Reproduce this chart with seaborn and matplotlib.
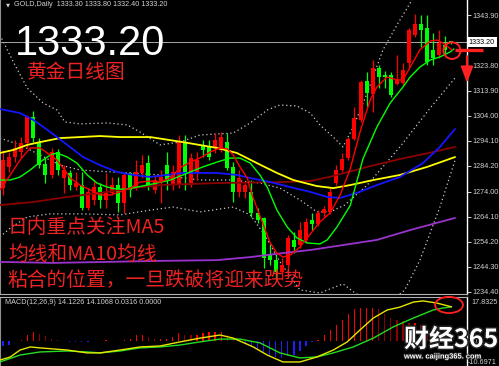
import numpy as np
import pandas as pd
import matplotlib
matplotlib.use("Agg")
import matplotlib.pyplot as plt
import seaborn as sns
from matplotlib.patches import Ellipse
import matplotlib.patheffects as pe

# ---------------- data ----------------
opens = [1275.4, 1283.8, 1287.7, 1289.7, 1293.3, 1303.5, 1293.3, 1284.9, 1280.6, 1289.7,
         1279.4, 1281.4, 1275.8, 1276.6, 1267.5, 1270.7, 1275.8, 1270.7, 1273.5, 1276.6,
         1269.5, 1281.4, 1275.8, 1281.4, 1285.3, 1274.7, 1277.8, 1284.5, 1276.6, 1276.6,
         1293.6, 1276.6, 1281.4, 1292.5, 1291.7, 1291.3, 1290.5, 1293.6, 1283.8, 1273.9,
         1273.9, 1273.9, 1265.6, 1263.6, 1248.9, 1246.9, 1242.2, 1245.0, 1254.9, 1252.9,
         1254.9, 1262.8, 1261.2, 1265.6, 1266.0, 1277.4, 1282.6, 1287.3, 1294.8, 1302.4,
         1317.8, 1312.6, 1322.9, 1320.2, 1320.2, 1316.6, 1317.0, 1324.9, 1336.0, 1340.3,
         1338.8, 1330.1, 1328.1, 1332.0, 1333.3]
highs = [1290.5, 1289.7, 1294.4, 1295.6, 1304.3, 1305.9, 1295.2, 1287.3, 1291.3, 1290.9,
         1284.5, 1282.6, 1281.8, 1281.8, 1275.4, 1278.6, 1277.4, 1281.4, 1279.8, 1279.8,
         1281.4, 1281.8, 1286.5, 1288.5, 1288.5, 1280.6, 1282.6, 1289.7, 1284.5, 1296.4,
         1296.4, 1289.3, 1289.7, 1294.4, 1294.4, 1297.2, 1297.6, 1297.2, 1285.7, 1282.6,
         1277.4, 1278.6, 1267.5, 1264.0, 1252.9, 1248.9, 1247.7, 1256.8, 1258.0, 1262.0,
         1263.6, 1265.6, 1266.7, 1268.3, 1275.4, 1284.5, 1289.3, 1295.6, 1307.5, 1318.2,
         1321.3, 1326.1, 1324.1, 1321.7, 1321.3, 1328.1, 1324.9, 1338.8, 1344.3, 1343.9,
         1343.9, 1336.8, 1338.0, 1335.6, 1333.8]
lows = [1272.7, 1281.8, 1285.7, 1287.3, 1291.3, 1293.6, 1283.4, 1277.4, 1279.4, 1280.6,
        1273.5, 1274.7, 1274.7, 1266.7, 1266.7, 1268.7, 1267.5, 1267.5, 1272.7, 1266.0,
        1265.6, 1271.9, 1274.7, 1279.4, 1274.7, 1273.5, 1269.5, 1274.7, 1274.7, 1275.4,
        1274.7, 1275.8, 1278.6, 1287.7, 1286.5, 1289.3, 1289.7, 1282.6, 1269.9, 1271.9,
        1271.5, 1264.0, 1261.6, 1243.8, 1245.0, 1239.0, 1239.0, 1241.0, 1249.7, 1251.7,
        1253.7, 1258.8, 1260.4, 1264.0, 1265.2, 1276.6, 1281.8, 1286.5, 1294.4, 1301.6,
        1307.5, 1305.5, 1315.0, 1315.0, 1311.5, 1316.2, 1316.2, 1323.3, 1335.2, 1331.2,
        1324.1, 1324.1, 1326.9, 1328.1, 1332.4]
closes = [1286.5, 1287.7, 1291.3, 1293.3, 1303.5, 1295.2, 1284.5, 1280.6, 1289.7, 1282.6,
          1282.6, 1276.6, 1277.4, 1267.5, 1273.9, 1275.8, 1270.7, 1273.9, 1276.6, 1269.5,
          1280.6, 1274.7, 1281.8, 1284.5, 1276.6, 1278.6, 1279.8, 1278.6, 1281.8, 1293.6,
          1281.4, 1287.3, 1286.5, 1290.5, 1287.7, 1294.4, 1295.6, 1283.4, 1273.9, 1279.4,
          1276.6, 1265.6, 1262.8, 1247.7, 1246.9, 1242.2, 1245.0, 1255.7, 1252.1, 1258.8,
          1262.0, 1261.2, 1265.6, 1267.1, 1273.9, 1282.6, 1286.9, 1294.8, 1303.1, 1317.4,
          1313.0, 1322.9, 1319.4, 1319.4, 1312.2, 1318.2, 1322.1, 1338.0, 1340.3, 1338.0,
          1325.3, 1326.9, 1332.8, 1330.1, 1333.2]

ma5_x = [-0.5, 1.2, 2.8, 4.5, 6.1, 7.8, 8.9, 9.9, 11.1, 12.7, 14.4, 16.0, 17.7, 19.3, 21.0, 22.6,
         24.3, 25.9, 27.6, 29.2, 30.9, 32.5, 34.2, 35.8, 37.0, 38.0, 39.1, 40.3, 41.1, 42.1, 43.1,
         44.1, 45.2, 46.2, 47.4, 49.0, 50.7, 52.3, 54.0, 55.6, 57.3, 58.9, 60.6, 61.7, 63.4, 65.0,
         66.0, 67.2, 68.8, 70.5, 71.6, 72.6, 74.1]
ma5_y = [1274.7, 1280.6, 1286.5, 1291.3, 1291.3, 1288.5, 1286.5, 1283.4, 1279.4, 1276.6, 1274.7,
         1272.7, 1272.7, 1273.9, 1275.4, 1277.8, 1278.2, 1277.8, 1279.4, 1283.4, 1285.7, 1287.3,
         1289.7, 1291.3, 1290.9, 1288.5, 1283.8, 1279.4, 1272.7, 1266.3, 1260.0, 1253.7, 1249.7,
         1248.1, 1248.9, 1252.1, 1257.2, 1262.0, 1265.6, 1272.5, 1283.0, 1297.5, 1310.3, 1315.4,
         1319.4, 1318.2, 1318.2, 1323.3, 1330.1, 1333.6, 1334.0, 1332.8, 1330.1]

ma10_x = [-0.5, 1.2, 2.8, 4.5, 6.1, 7.8, 8.9, 10.6, 12.2, 13.9, 15.5, 17.2, 18.8, 20.5, 22.1, 23.8,
          25.4, 27.6, 30.9, 33.0, 35.3, 37.5, 39.1, 40.8, 42.4, 43.6, 45.2, 46.9, 48.5, 50.2, 52.3,
          53.5, 55.1, 57.3, 59.4, 61.7, 63.9, 66.0, 67.2, 68.8, 70.5, 72.1, 73.8, 74.4]
ma10_y = [1278.6, 1278.6, 1279.8, 1282.6, 1285.7, 1288.5, 1289.3, 1287.7, 1285.3, 1280.6, 1277.4,
          1275.8, 1275.0, 1275.0, 1275.8, 1276.6, 1277.4, 1278.6, 1281.8, 1283.8, 1285.7, 1287.3,
          1287.3, 1285.3, 1280.6, 1275.8, 1266.7, 1260.0, 1255.7, 1253.7, 1253.3, 1254.9, 1260.0,
          1268.5, 1287.0, 1299.6, 1309.1, 1315.4, 1319.4, 1323.3, 1326.1, 1327.3, 1329.3, 1330.5]

blue_x = [-0.5, 2.8, 5.0, 7.8, 10.6, 13.2, 16.0, 18.8, 21.5, 24.3, 29.7, 35.3, 38.6, 40.8, 44.1,
          47.4, 50.7, 53.5, 55.6, 58.4, 61.7, 65.5, 69.3, 72.1, 74.6]
blue_y = [1306.7, 1305.1, 1302.4, 1297.6, 1292.5, 1287.7, 1284.5, 1281.8, 1280.6, 1279.8, 1281.4,
          1281.4, 1280.6, 1279.4, 1277.8, 1275.8, 1273.9, 1271.9, 1271.5, 1273.5, 1276.6, 1279.8,
          1285.3, 1291.7, 1298.8]

yellow_x = [-0.5, 1.7, 4.0, 6.1, 9.4, 12.7, 16.0, 19.3, 24.3, 29.7, 35.3, 38.6, 41.9, 45.2, 47.9,
            51.8, 54.5, 57.3, 61.1, 65.5, 70.0, 74.6]
yellow_y = [1289.3, 1290.5, 1292.5, 1293.6, 1295.2, 1295.6, 1296.0, 1295.6, 1295.6, 1293.6, 1291.3,
            1289.3, 1285.3, 1281.4, 1278.6, 1276.2, 1275.4, 1276.6, 1278.6, 1280.6, 1283.8, 1287.7]

maroon_x = [-0.5, 5.0, 10.6, 16.0, 21.5, 25.9, 35.3, 46.2, 50.7, 54.5, 60.1, 65.5, 71.0, 74.6]
maroon_y = [1268.7, 1269.9, 1271.9, 1273.5, 1275.4, 1276.6, 1277.4, 1277.8, 1278.2, 1280.2, 1283.8,
            1286.9, 1289.7, 1291.7]

purple_x = [-0.5, 8.3, 17.2, 25.9, 35.3, 40.8, 46.2, 50.7, 57.3, 61.7, 67.2, 74.6]
purple_y = [1246.2, 1245.8, 1246.2, 1246.6, 1246.9, 1248.1, 1249.7, 1250.9, 1253.3, 1254.9, 1258.8,
            1263.6]

bb_up_x = [-0.5, 1.7, 4.0, 6.6, 8.9, 10.2, 12.7, 17.2, 20.5, 22.6, 25.9, 29.2, 32.5, 38.0, 40.8,
           43.6, 45.7, 48.5, 50.7, 52.3, 54.5, 56.1, 57.8, 60.1, 62.7, 65.0, 67.2, 69.6, 74.6]
bb_up_y = [1336.0, 1325.3, 1315.0, 1309.1, 1306.3, 1301.6, 1300.8, 1301.2, 1300.4, 1297.6, 1292.5,
           1293.6, 1296.4, 1297.2, 1301.2, 1306.3, 1308.3, 1307.9, 1305.1, 1300.4, 1295.6, 1291.7,
           1299.6, 1313.0, 1330.1, 1339.9, 1348.7, 1357.8, 1373.6]
bb_mid_x = [-0.5, 2.8, 6.1, 9.4, 12.7, 17.7, 21.0, 25.9, 32.5, 37.5, 42.4, 45.7, 49.0, 51.8, 54.0,
            56.4, 60.1, 65.5, 70.5, 74.6]
bb_mid_y = [1295.2, 1292.5, 1288.5, 1284.5, 1282.6, 1281.8, 1281.4, 1280.6, 1278.6, 1278.6, 1277.4,
            1275.4, 1270.7, 1266.0, 1266.0, 1268.7, 1276.6, 1291.7, 1307.1, 1319.0]
bb_low_x = [-0.5, 1.2, 4.0, 7.8, 13.2, 19.3, 24.3, 28.1, 32.5, 38.0, 40.8, 43.2, 45.7, 49.0, 52.3,
            56.1, 58.1, 60.1, 63.9, 66.3, 68.8, 72.1, 74.6]
bb_low_y = [1256.1, 1259.6, 1264.0, 1265.2, 1265.2, 1264.8, 1266.7, 1267.9, 1266.0, 1267.9, 1264.8,
            1256.8, 1246.2, 1235.1, 1233.9, 1237.5, 1233.9, 1231.1, 1230.3, 1235.1, 1246.9, 1267.9,
            1286.5]

macd_hist = [-2.5, -1.7, -0.4, 0.4, 2.1, 3.4, 2.9, 1.7, 0.8, 0.4,
             -0.4, -0.8, -0.8, -0.8, -0.8, -0.4, -0.4, 0.4, -0.4, -0.4,
             0.4, 0.8, 2.1, 2.1, 1.3, 0.8, 0.8, 0.8, 1.3, 3.0,
             2.5, 2.1, 2.5, 3.2, 3.4, 3.6, 3.6, 2.5, 0.8, -0.4,
             -1.3, -2.5, -3.4, -5.0, -6.3, -7.1, -7.5, -6.7, -5.9, -4.2,
             -2.5, -0.8, 0.4, 2.1, 4.2, 6.3, 8.4, 11.3, 13.4, 13.8,
             13.8, 13.8, 13.4, 11.3, 9.6, 8.4, 8.0, 7.5, 7.5, 6.7,
             5.0, 3.8, 2.5, 1.3, 0.03]
dif_x = [-0.5, 1.2, 2.8, 4.5, 6.1, 10.6, 13.9, 16.0, 19.3, 22.6, 25.9, 29.2, 32.5, 35.8, 38.0,
         41.3, 43.6, 46.2, 49.0, 51.8, 54.5, 56.8, 58.9, 61.1, 63.4, 65.5, 67.7, 69.3, 71.6, 74.0]
dif_y = [-8.2, -6.9, -4.0, -2.7, -3.1, -4.0, -5.2, -5.2, -4.0, -2.7, -2.3, -0.6, 1.0, 2.3, 1.0,
         -2.7, -6.1, -9.0, -9.0, -6.9, -4.0, -0.6, 4.4, 9.4, 12.8, 14.0, 16.1, 16.6, 15.7, 14.12]
dea_x = [-0.5, 2.8, 6.1, 10.6, 13.9, 16.0, 19.3, 22.6, 25.9, 29.2, 32.5, 35.8, 39.1, 42.4, 45.7,
         49.0, 51.8, 54.5, 57.8, 61.1, 64.4, 67.7, 71.0, 72.6, 74.0]
dea_y = [-9.0, -6.1, -4.8, -4.4, -4.8, -5.2, -4.4, -3.1, -2.7, -1.9, -0.6, 0.6, 0.6, -1.0, -5.2,
         -7.3, -6.9, -5.2, -2.7, 1.0, 5.7, 9.4, 12.8, 13.6, 14.11]

price_ticks = [1343.90, 1323.80, 1313.90, 1304.00, 1294.10, 1284.20, 1274.00, 1264.10, 1254.20,
               1244.30, 1234.40]
last_price = 1333.20
header = "GOLD,Daily  1333.30 1333.80 1332.40 1333.20"
macd_label = "MACD(12,26,9) 14.1226 14.1068 0.0316 0.0000"
macd_max_label = "17.8325"
macd_min_label = "-10.6971"
title_cn = "黄金日线图"
note_lines = ["日内重点关注MA5", "均线和MA10均线", "粘合的位置，一旦跌破将迎来跌势"]

# ---------------- style ----------------
sns.set_theme(style="dark", rc={"axes.facecolor": "black", "figure.facecolor": "black",
                                "savefig.facecolor": "black"})
plt.rcParams["font.family"] = ["Liberation Sans", "Noto Sans CJK SC", "DejaVu Sans"]
CJK = ["Noto Sans CJK SC", "DejaVu Sans"]

W, H = 499, 366
fig = plt.figure(figsize=(W / 100, H / 100), dpi=100, facecolor="black")
ax = fig.add_axes([0, 1 - 294 / H, 467 / W, 294 / H])
axm = fig.add_axes([0, 0, 467 / W, 69 / H])
for a in (ax, axm):
    a.set_facecolor("black")
    a.grid(False)

n = len(closes)
idx = np.arange(n)
o = np.array(opens); c = np.array(closes); hi = np.array(highs); lo = np.array(lows)
up = c >= o
UP, DN = "#FF0000", "#00FF00"
cols = np.where(up, UP, DN)

ax.vlines(idx, lo, hi, colors=cols, linewidth=0.9, zorder=2)
ax.bar(idx, np.maximum(np.abs(c - o), 0.25), bottom=np.minimum(o, c), width=0.66,
       color=cols, linewidth=0, zorder=2)


def line(axis, xs, ys, color, lw, ls="-", z=3):
    df = pd.DataFrame({"x": xs, "y": ys})
    sns.lineplot(data=df, x="x", y="y", ax=axis, color=color, linewidth=lw, linestyle=ls,
                 estimator=None, sort=False, legend=False, zorder=z)


dot = (0, (1.0, 2.2))
line(ax, bb_up_x, bb_up_y, "#C8C8C8", 0.9, dot, 1)
line(ax, bb_mid_x, bb_mid_y, "#C8C8C8", 0.9, dot, 1)
line(ax, bb_low_x, bb_low_y, "#C8C8C8", 0.9, dot, 1)
line(ax, purple_x, purple_y, "#9933CC", 1.3)
line(ax, maroon_x, maroon_y, "#8B0000", 1.3)
line(ax, yellow_x, yellow_y, "#FFFF00", 1.3)
line(ax, blue_x, blue_y, "#1515FF", 1.3)
line(ax, ma10_x, ma10_y, "#00FF00", 1.0)
line(ax, ma5_x, ma5_y, "#FF0000", 1.0)

ax.axhline(last_price, color="#A8A8A8", lw=0.7, zorder=1.5)

xl = (-0.5, 76.57)
ax.set_xlim(*xl)
ax.set_ylim(1349.84 - 294 / 2.527, 1349.84)
ax.set_xlabel(""); ax.set_ylabel("")
ax.set_xticks([])
ax.yaxis.tick_right()
ax.set_yticks(price_ticks)
ax.set_yticklabels([f"{v:.2f}" for v in price_ticks])
ax.tick_params(axis="y", colors="#D0D0D0", labelsize=5.2, length=3, width=0.7, pad=1.2,
               direction="out", right=True, left=False)
ax.spines["top"].set_visible(False)
ax.spines["right"].set_color("white"); ax.spines["right"].set_linewidth(1.0)
ax.spines["left"].set_color("#909090"); ax.spines["left"].set_linewidth(0.8)
ax.spines["bottom"].set_color("#B0B0B0"); ax.spines["bottom"].set_linewidth(0.8)

# current price box
ax.text(1.004, last_price, f"{last_price:.2f}", transform=ax.get_yaxis_transform(),
        fontsize=5.2, color="black", va="center", ha="left", clip_on=False, zorder=6,
        bbox=dict(boxstyle="square,pad=0.25", fc="white", ec="none"))

# ---------------- MACD ----------------
hist = np.array(macd_hist)
prev = np.concatenate([[hist[0]], hist[:-1]])
hcols = np.where(hist >= 0, np.where(hist >= prev, "#FF0000", "#8B0000"), "#1E1EFF")
axm.bar(idx, hist, width=0.22, color=hcols, linewidth=0, zorder=2)
line(axm, dea_x, dea_y, "#22DD22", 1.0)
line(axm, dif_x, dif_y, "#E6E600", 1.0)
axm.set_xlim(*xl)
axm.set_ylim(-10.69, 18.24)
axm.set_xlabel(""); axm.set_ylabel("")
axm.set_xticks([])
axm.yaxis.tick_right()
axm.set_yticks([0])
axm.set_yticklabels(["0.0"])
axm.tick_params(axis="y", colors="#D0D0D0", labelsize=5.2, length=3, width=0.7, pad=1.2,
                right=True, left=False)
axm.spines["bottom"].set_visible(False)
axm.spines["right"].set_color("white"); axm.spines["right"].set_linewidth(1.0)
axm.spines["left"].set_color("#909090"); axm.spines["left"].set_linewidth(0.8)
axm.spines["top"].set_color("#B0B0B0"); axm.spines["top"].set_linewidth(0.8)


def ftext(x, y, s, **kw):
    return fig.text(x / W, 1 - y / H, s, **kw)


ftext(471, 302, macd_max_label, fontsize=5.2, color="#D0D0D0", va="center", ha="left")
ftext(468, 363, macd_min_label, fontsize=5.2, color="#D0D0D0", va="center", ha="left")
ftext(5, 303, macd_label, fontsize=5.2, color="#D0D0D0", va="center", ha="left")

# header and big price
ftext(6, 5, "▼", fontsize=3.8, color="#D0D0D0", va="center", ha="left",
      family=["DejaVu Sans"])
ftext(14, 5, header, fontsize=5.2, color="#D0D0D0", va="center", ha="left")
ftext(15, 55, f"{last_price:.2f}", fontsize=30, color="white", va="baseline", ha="left",
      family=["Liberation Sans"])

RED = "#EE2222"
ftext(27, 78, title_cn, fontsize=14.2, color=RED, va="baseline", ha="left", family=CJK)
for s, yb in zip(note_lines, [233, 260, 286]):
    ftext(8, yb, s, fontsize=14.2, color=RED, va="baseline", ha="left", family=CJK)

# annotations
ax.add_patch(Ellipse((74.1, 1329.8), 2.8, 6.6, fill=False, ec="#FF2020", lw=1.4,
                     clip_on=False, zorder=7))
ax.plot([74.6, 79.2], [1330.0, 1330.0], color="#FF2020", lw=2.4, solid_capstyle="butt",
        clip_on=False, zorder=7)
ax.annotate("", xy=(76.57, 1317.0), xytext=(76.57, 1327.6),
            arrowprops=dict(arrowstyle="-|>,head_width=0.3,head_length=0.8",
                            color="#FF2020", lw=1.6, shrinkA=0, shrinkB=0),
            annotation_clip=False, zorder=7)
axm.add_patch(Ellipse((73.6, 14.9), 4.6, 6.8, fill=False, ec="#FF2020", lw=1.3,
                      clip_on=False, zorder=7))

# watermark
wm = ftext(404, 347, "财经365", fontsize=18, color="white", va="baseline", ha="left",
           family=CJK, fontweight="bold")
wm.set_path_effects([pe.withStroke(linewidth=2.2, foreground="#202020")])
ww = ftext(404, 358.5, "www. caijing365. com", fontsize=5.4, color="white", va="baseline",
           ha="left", fontweight="bold")
ww.set_path_effects([pe.withStroke(linewidth=1.2, foreground="#202020")])

fig.savefig("out.png", dpi=100, facecolor="black")
